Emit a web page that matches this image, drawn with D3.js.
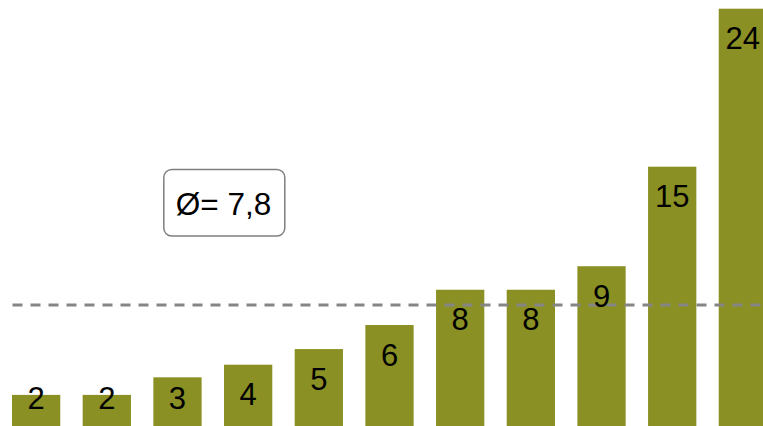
<!DOCTYPE html>
<html>
<head>
<meta charset="utf-8">
<script src="https://cdn.jsdelivr.net/npm/d3@7"></script>
<style>
  html, body { margin: 0; padding: 0; background: #fff; overflow: hidden; }
  svg { display: block; }
</style>
</head>
<body>
<svg id="chart" width="763" height="426"></svg>
<script>
// Data
const categories = ["1", "2", "3", "4", "5", "6", "7", "8", "9", "10", "11"];
const values = [2.0, 2.0, 3.0, 3.72, 4.61, 5.98, 7.99, 7.99, 9.33, 15.0, 24.0];
const valueLabels = ["2", "2", "3", "4", "5", "6", "8", "8", "9", "15", "24"];
const averageLabel = "Ø= 7,8";
const referenceLineValue = 7.12;

const W = 763, H = 426;
const svg = d3.select("#chart");

const x = d3.scaleBand()
  .domain(categories)
  .range([12, 767])
  .paddingInner(0.317)
  .paddingOuter(0);

const y = d3.scaleLinear()
  .domain([0, 24])
  .range([430, 8.7]);

const barColor = "#8A9023";

svg.append("g")
  .selectAll("rect")
  .data(values)
  .join("rect")
  .attr("x", (d, i) => x(categories[i]))
  .attr("y", d => y(d))
  .attr("width", x.bandwidth())
  .attr("height", d => y(0) - y(d))
  .attr("fill", barColor);

// Reference (average) dashed line
svg.append("line")
  .attr("x1", 12.5)
  .attr("x2", W)
  .attr("y1", y(referenceLineValue))
  .attr("y2", y(referenceLineValue))
  .attr("stroke", "#858585")
  .attr("stroke-width", 2.8)
  .attr("stroke-dasharray", "10,8");

// Value labels
svg.append("g")
  .selectAll("text")
  .data(values)
  .join("text")
  .attr("x", (d, i) => x(categories[i]) + x.bandwidth() / 2)
  .attr("y", d => Math.min(y(d) + 40.5, 409))
  .attr("text-anchor", "middle")
  .attr("font-family", "'Liberation Sans', Arial, sans-serif")
  .attr("font-size", "31px")
  .attr("fill", "#000")
  .text((d, i) => valueLabels[i]);

// Average box
const box = svg.append("g");
box.append("rect")
  .attr("x", 163.8)
  .attr("y", 169.5)
  .attr("width", 121)
  .attr("height", 66.5)
  .attr("rx", 8)
  .attr("ry", 8)
  .attr("fill", "#fff")
  .attr("stroke", "#7f7f7f")
  .attr("stroke-width", 1.5);
box.append("text")
  .attr("x", 223.5)
  .attr("y", 215)
  .attr("text-anchor", "middle")
  .attr("font-family", "'Liberation Sans', Arial, sans-serif")
  .attr("font-size", "31.5px")
  .attr("fill", "#000")
  .text(averageLabel);
</script>
</body>
</html>
